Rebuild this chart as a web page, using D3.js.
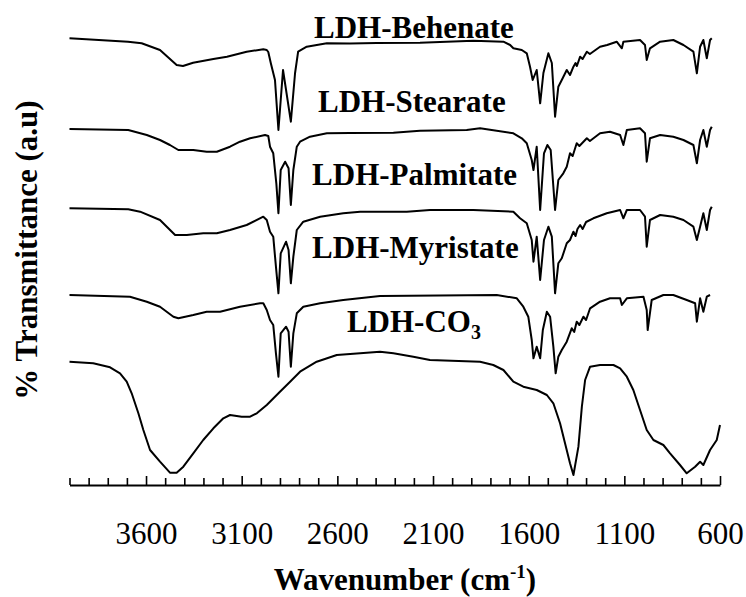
<!DOCTYPE html>
<html>
<head>
<meta charset="utf-8">
<script src="https://cdn.jsdelivr.net/npm/d3@7"></script>
<style>
  html, body { margin: 0; padding: 0; background: #fff; }
  svg { display: block; }
  text { font-family: "Liberation Serif", "Times New Roman", serif; fill: #000; }
</style>
</head>
<body>
<svg id="chart" width="746" height="597"></svg>
<script>
// FTIR spectra, [wavenumber (cm-1), transmittance (a.u., stacked)]
const behenate = [
  [4000, 446.7], [3694, 443.3], [3623, 441.7], [3527, 435], [3440, 420], [3407, 419],
  [3354, 422.3], [3248, 426], [3177, 428.3], [3074, 433.3], [2987, 435.7], [2969, 435],
  [2961, 433], [2948, 422], [2926, 405], [2908, 355], [2884, 415], [2843, 363.3],
  [2821, 412], [2805, 433.3], [2760, 438.3], [2655, 441.7], [2534, 441.5], [2394, 442],
  [2168, 442.3], [1889, 444.3], [1732, 443.3], [1697, 440], [1680, 436.7], [1636, 435],
  [1610, 431.7], [1593, 418.3], [1579, 405], [1558, 415], [1540, 381.7], [1523, 412],
  [1497, 431.7], [1479, 422], [1462, 368.3], [1445, 398.3], [1427, 405], [1401, 415],
  [1384, 410], [1366, 418.3], [1355, 422], [1348, 419], [1331, 428.3], [1318, 426],
  [1296, 433.3], [1280, 431], [1227, 438.3], [1190, 440], [1140, 443.3],
  [1113, 436.7], [1105, 443.3], [1018, 445], [992, 440], [983, 425], [966, 436.7],
  [913, 443.3], [844, 445], [791, 440], [739, 433.3], [721, 411.7], [704, 438.3],
  [687, 445], [669, 426.7], [652, 445], [643, 446.7]
];
const stearate = [
  [4000, 356], [3693, 355], [3596, 350], [3527, 345], [3475, 340], [3431, 335],
  [3353, 335], [3283, 333.3], [3230, 333.3], [3161, 338.3], [3109, 343.3], [3056, 346.7],
  [2978, 350], [2961, 349], [2952, 338.3], [2935, 331.7], [2919, 301.7], [2908, 271.7],
  [2896, 315], [2873, 323.3], [2855, 316.7], [2843, 280], [2830, 315], [2812, 338.3],
  [2795, 343.3], [2743, 348.3], [2655, 351.7], [2534, 352], [2307, 352.3], [2168, 354.3],
  [1924, 355], [1854, 356.7], [1680, 351.7], [1636, 346.7], [1610, 341.7], [1584, 325],
  [1575, 315], [1558, 338.3], [1540, 275], [1520, 331.7], [1502, 340], [1485, 335],
  [1462, 275], [1445, 305], [1419, 311.7], [1401, 318.3], [1384, 331.7], [1370, 329],
  [1349, 341.7], [1335, 339], [1296, 346.7], [1280, 344], [1227, 351.7], [1175, 353.3],
  [1122, 350], [1105, 340], [1087, 355],
  [1018, 356.7], [992, 351.7], [983, 323.3], [966, 346.7], [913, 350], [844, 348.3],
  [791, 345], [739, 340], [721, 321.7], [704, 345], [687, 355], [669, 338.3],
  [652, 355], [643, 358.3]
];
const palmitate = [
  [4000, 276.7], [3693, 275.7], [3631, 273.3], [3527, 265], [3448, 250], [3387, 250],
  [3301, 251.7], [3230, 251.7], [3161, 255], [3074, 260], [2987, 268.3], [2969, 265],
  [2952, 253.3], [2935, 248.3], [2921, 218.3], [2908, 191.7], [2896, 231.7], [2868, 243.3],
  [2855, 235], [2843, 201.7], [2830, 228.3], [2812, 255], [2778, 263.3], [2690, 268.3],
  [2569, 271.7], [2481, 273.3], [2394, 273.3], [2237, 273.3], [2116, 275], [1889, 275],
  [1680, 273.3], [1645, 266.7], [1610, 261.7], [1584, 245], [1575, 223.3], [1558, 248.3],
  [1540, 205], [1520, 245], [1497, 258.3], [1479, 248.3], [1462, 191.7], [1445, 221.7],
  [1427, 226.7], [1401, 241.7], [1384, 245], [1366, 253.3], [1355, 249], [1345, 256],
  [1331, 260], [1318, 256], [1300, 263], [1262, 266.7],
  [1192, 271.7], [1122, 275], [1105, 266.7], [1087, 275], [1018, 275], [992, 268.3],
  [983, 238.3], [966, 265], [913, 270], [844, 268.3], [791, 265], [739, 258.3],
  [721, 245], [704, 258.3], [687, 271.7], [669, 255], [652, 275], [643, 278.3]
];
const myristate = [
  [4000, 190], [3684, 188.3], [3596, 183.3], [3527, 178.3], [3457, 168.3], [3431, 166.7],
  [3353, 170], [3283, 173.3], [3213, 173.3], [3109, 178.3], [3004, 181.7], [2987, 181.7],
  [2969, 175], [2952, 165], [2935, 160], [2921, 131.7], [2908, 108.3], [2896, 151.7],
  [2868, 158.3], [2855, 153.3], [2843, 118.3], [2830, 151.7], [2812, 171.7], [2778, 178.3],
  [2690, 181.7], [2569, 185], [2377, 189], [1767, 190], [1662, 186.7], [1628, 178.3],
  [1602, 168.3], [1584, 145], [1575, 126.7], [1558, 138.3], [1540, 126.7], [1526, 155],
  [1505, 173.3], [1488, 168.3], [1471, 138.3], [1459, 111.7], [1445, 128.3], [1427, 135],
  [1401, 143.3], [1375, 156.7], [1362, 153], [1349, 163.3], [1335, 160], [1314, 168.3],
  [1300, 165], [1279, 176.7], [1227, 183.3],
  [1175, 186.7], [1122, 186.7], [1113, 180], [1087, 186.7], [1000, 188.3], [983, 175],
  [978, 155], [957, 185], [896, 190], [844, 190], [774, 185], [730, 181.7],
  [721, 163.3], [704, 186.7], [687, 173.3], [669, 188.3], [652, 190]
];
const carbonate = [
  [4000, 123.3], [3876, 121.7], [3788, 117.7], [3736, 111.7], [3701, 103.3], [3675, 91.7],
  [3640, 71.7], [3614, 55], [3579, 35], [3527, 23.3], [3475, 12.3], [3440, 12.3],
  [3405, 18.3], [3353, 31.7], [3301, 45], [3248, 56.7], [3196, 66.7], [3161, 70],
  [3100, 68.3], [3056, 68.3], [3021, 71.7], [2969, 80], [2900, 93.3], [2847, 103.3],
  [2795, 113.3], [2708, 123.3], [2603, 130], [2481, 131.7], [2377, 133.3], [2307, 131.7],
  [2203, 128.3], [2116, 125], [1854, 123.3], [1785, 120], [1732, 115], [1680, 103.3],
  [1628, 98.3], [1558, 95], [1505, 90], [1471, 81.7], [1436, 61.7], [1410, 41.7],
  [1384, 21.7], [1366, 10], [1340, 38.3], [1322, 78.3], [1305, 105], [1279, 118.3],
  [1227, 120], [1157, 120], [1122, 116.7], [1087, 108.3], [1053, 95], [1018, 75],
  [983, 55], [948, 45], [896, 40], [861, 31.7], [809, 20], [774, 11.7],
  [730, 18.3], [704, 23.3], [687, 20], [652, 35], [617, 45], [600, 60]
];

const seriesNames = ["LDH-Behenate", "LDH-Stearate", "LDH-Palmitate", "LDH-Myristate", "LDH-CO"];
const seriesData = [behenate, stearate, palmitate, myristate, carbonate];
const majorTicks = [3600, 3100, 2600, 2100, 1600, 1100, 600];
const minorTicks = [4000, 3900, 3800, 3700, 3500, 3400, 3300, 3200, 3000, 2900, 2800, 2700,
  2500, 2400, 2300, 2200, 2000, 1900, 1800, 1700, 1500, 1400, 1300, 1200, 1000, 900, 800, 700];

const svg = d3.select("#chart");
const x = d3.scaleLinear().domain([4000, 600]).range([69.5, 720]);
const y = d3.scaleLinear().domain([0, 470]).range([485, 15]);

// spectra
const line = d3.line().x(d => x(d[0])).y(d => y(d[1]));
svg.append("g").selectAll("path").data(seriesData).join("path")
  .attr("d", line)
  .attr("fill", "none")
  .attr("stroke", "#000")
  .attr("stroke-width", 2)
  .attr("stroke-linejoin", "round");

// series labels, anchored in data coordinates
const labelAnchors = [[2722, 447], [2701, 373], [2732, 300], [2732, 227], [2550, 153]];
const labels = svg.append("g").attr("font-weight", "bold").attr("font-size", 31);
seriesNames.forEach((name, i) => {
  const t = labels.append("text")
    .attr("x", x(labelAnchors[i][0]))
    .attr("y", y(labelAnchors[i][1]))
    .text(name);
  if (i === 4) {
    t.append("tspan").attr("font-size", 20).attr("dy", 7).text("3");
  }
});

// x axis: minor and major ticks point up into the plot
const gx = svg.append("g").attr("transform", `translate(0,${y(0)})`);
const minorAxis = d3.axisBottom(x).tickValues(minorTicks).tickSizeInner(-7).tickSizeOuter(0).tickFormat("");
const majorAxis = d3.axisBottom(x).tickValues(majorTicks).tickSizeInner(-9).tickSizeOuter(0)
  .tickFormat(d3.format("d"));
gx.append("g").call(minorAxis).call(g => g.select(".domain").remove());
const gMajor = gx.append("g").call(majorAxis);
gx.selectAll("line").attr("stroke", "#000").attr("stroke-width", 1.6);
gMajor.select(".domain").attr("stroke", "#000").attr("stroke-width", 2.2);
gMajor.selectAll("text")
  .attr("y", 59).attr("dy", 0)
  .attr("font-family", "Liberation Serif")
  .attr("font-size", 31)
  .attr("fill", "#000");

// axis titles
const xt = svg.append("text")
  .attr("x", 405).attr("y", 590)
  .attr("text-anchor", "middle")
  .attr("font-weight", "bold").attr("font-size", 31)
  .text("Wavenumber (cm");
xt.append("tspan").attr("font-size", 19).attr("dy", -12).text("-1");
xt.append("tspan").attr("dy", 12).text(")");

svg.append("text")
  .attr("transform", "translate(37,250) rotate(-90)")
  .attr("text-anchor", "middle")
  .attr("font-weight", "bold").attr("font-size", 31)
  .text("% Transmittance (a.u)");
</script>
</body>
</html>
